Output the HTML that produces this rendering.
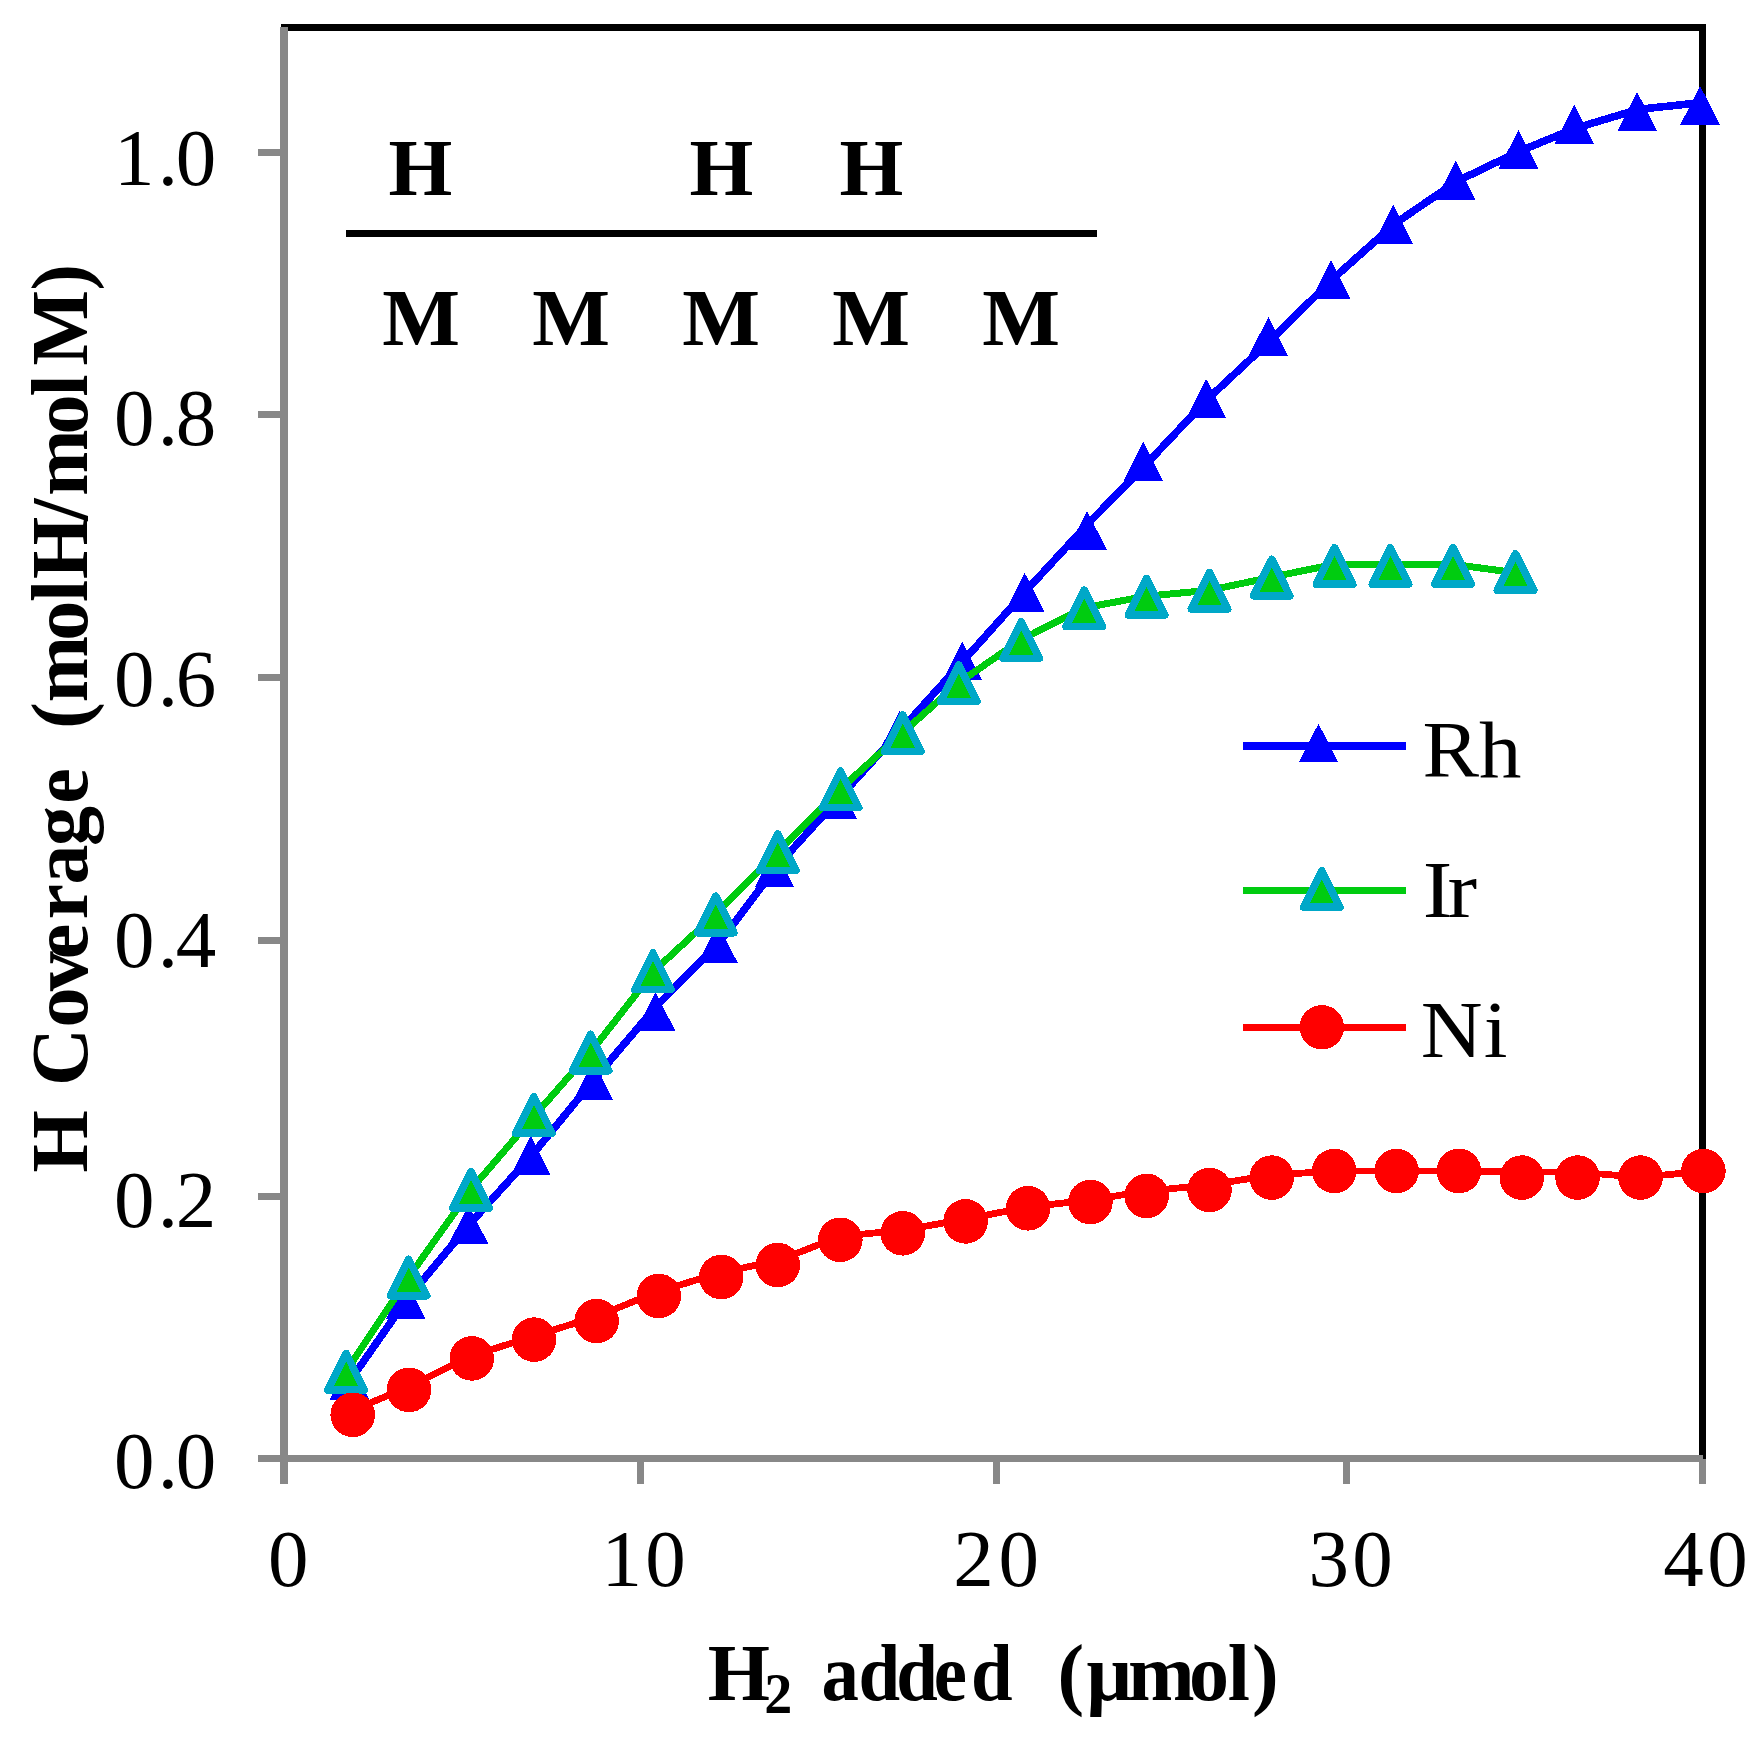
<!DOCTYPE html>
<html lang="en"><head><meta charset="utf-8"><title>H coverage vs H2 added</title>
<style>html,body{margin:0;padding:0;background:#fff;width:1763px;height:1742px;overflow:hidden}svg{display:block}svg{font-family:"Liberation Serif","DejaVu Serif",serif;font-size:80px}text{fill:#000}.b{font-weight:bold}</style></head><body>
<svg width="1763" height="1742" viewBox="0 0 1763 1742">
<rect width="1763" height="1742" fill="#fff"/>
<g fill="#000">
<rect x="281" y="24" width="1425" height="7"/>
<rect x="1699" y="24" width="7" height="1435"/>
</g>
<g fill="#888888">
<rect x="280" y="27" width="8" height="1457"/>
<rect x="258" y="1455" width="1445" height="7"/>
<rect x="258" y="149" width="22" height="7"/>
<rect x="258" y="411" width="22" height="7"/>
<rect x="258" y="674" width="22" height="7"/>
<rect x="258" y="937" width="22" height="7"/>
<rect x="258" y="1193" width="22" height="7"/>
<rect x="637" y="1462" width="7" height="22"/>
<rect x="993" y="1462" width="7" height="22"/>
<rect x="1343" y="1462" width="7" height="22"/>
<rect x="1699" y="1459" width="7" height="25"/>
</g>
<g style="font-size:81px">
<text x="113.9 157.7 175.7" y="185">1.0</text>
<text x="113.9 157.7 175.7" y="445">0.8</text>
<text x="113.9 157.7 175.7" y="706">0.6</text>
<text x="113.9 157.7 175.7" y="967">0.4</text>
<text x="113.9 157.7 175.7" y="1227">0.2</text>
<text x="113.9 157.7 175.7" y="1488">0.0</text>
<text x="267.9" y="1586">0</text>
<text x="601.5 645.2" y="1586">10</text>
<text x="953.2 998.4" y="1586">20</text>
<text x="1308.5 1352.3" y="1586">30</text>
<text x="1663.2 1707.2" y="1586">40</text>
</g>
<text class="b" x="707.7" y="1700">H</text>
<text class="b" x="764.3" y="1712.5" style="font-size:56px">2</text>
<text class="b" transform="translate(824,1700) scale(0.935,1)" x="-2.6 36.8 77.2 117.3 157.2">added</text>
<text class="b" x="1057.4 1086.6 1128.1 1188.9 1227.7 1251.9" y="1700">(μmol)</text>
<g transform="translate(86.5,1171.5) rotate(-90)">
<text class="b" x="-0.9" y="0">H</text>
<text class="b" x="85.6 143.9 180.2 212.2 252.1 286.9 325.4 367.8" y="0">Coverage</text>
<text class="b" x="442.7 469.1 530.7 569.4 592.5 650.7 675.4 737 774.9 806.1 881.1" y="0">(molH/molM)</text>
</g>
<rect x="346" y="230" width="751" height="7" fill="#000"/>
<text class="b" transform="translate(420.5,195) scale(1.025,1)" text-anchor="middle">H</text>
<text class="b" transform="translate(721.5,195) scale(1.025,1)" text-anchor="middle">H</text>
<text class="b" transform="translate(871.5,195) scale(1.025,1)" text-anchor="middle">H</text>
<text class="b" transform="translate(421,345) scale(1.03,1)" text-anchor="middle">M</text>
<text class="b" transform="translate(571,345) scale(1.03,1)" text-anchor="middle">M</text>
<text class="b" transform="translate(721,345) scale(1.03,1)" text-anchor="middle">M</text>
<text class="b" transform="translate(871,345) scale(1.03,1)" text-anchor="middle">M</text>
<text class="b" transform="translate(1021,345) scale(1.03,1)" text-anchor="middle">M</text>
<g stroke-linejoin="round" stroke-linecap="round" shape-rendering="crispEdges">
<polyline fill="none" stroke="#0000ff" stroke-width="7.6" points="350.9,1379.5 407.2,1298.9 470,1223.7 533.4,1153.5 595,1078.3 656.5,1006 719.4,942.6 776,867.4 838.5,798.6 900.9,730 963.8,660.3 1026.2,590.6 1088.6,523.1 1144.8,465.7 1207.7,399 1269.9,341 1332.5,279.2 1394.8,223.7 1457.1,181.2 1520,151 1575.8,128.1 1638.7,109.3 1701.6,102.6"/>
<g fill="#0000ff">
<polygon points="349.4,1360.7 369.1,1399.5 329.7,1399.5"/>
<polygon points="405.7,1280.1 425.4,1318.9 386,1318.9"/>
<polygon points="468.5,1204.9 488.2,1243.7 448.8,1243.7"/>
<polygon points="530.8,1135.7 550.5,1174.5 511.1,1174.5"/>
<polygon points="593.3,1060.8 613,1099.6 573.6,1099.6"/>
<polygon points="655.5,991.9 675.2,1030.7 635.8,1030.7"/>
<polygon points="717.9,923.8 737.6,962.6 698.2,962.6"/>
<polygon points="774.5,848.6 794.2,887.4 754.8,887.4"/>
<polygon points="837,779.8 856.7,818.6 817.3,818.6"/>
<polygon points="899.4,711.2 919.1,750 879.7,750"/>
<polygon points="962.3,641.5 982,680.3 942.6,680.3"/>
<polygon points="1024.7,572.9 1044.4,611.7 1005,611.7"/>
<polygon points="1087.1,511 1106.8,549.8 1067.4,549.8"/>
<polygon points="1143.3,441.9 1163,480.7 1123.6,480.7"/>
<polygon points="1206.2,378.9 1225.9,417.7 1186.5,417.7"/>
<polygon points="1268.4,317 1288.1,355.8 1248.7,355.8"/>
<polygon points="1331,260.3 1350.7,299.1 1311.3,299.1"/>
<polygon points="1393.3,204.7 1413,243.5 1373.6,243.5"/>
<polygon points="1455.6,160.7 1475.3,199.5 1435.9,199.5"/>
<polygon points="1518.5,129.8 1538.2,168.6 1498.8,168.6"/>
<polygon points="1574.3,104.9 1594,143.7 1554.6,143.7"/>
<polygon points="1637.2,92 1656.9,130.8 1617.5,130.8"/>
<polygon points="1700.1,85.8 1719.8,124.6 1680.4,124.6"/>
</g>
<polyline fill="none" stroke="#00cc10" stroke-width="7" points="346.2,1371.2 408.7,1277.1 471.2,1189.3 531.9,1118.7 593.5,1048.5 655,970 715.7,914 777.9,851.7 840.5,788.9 902.7,732.6 958.9,682.7 1021.3,639.6 1084.2,607.8 1146.6,596.2 1209.4,590.3 1271.8,577.1 1334.6,564.3 1390.4,564.3 1453,564.3 1515.5,572.7"/>
<g fill="#00cc10" stroke="#00a8c8" stroke-width="7.5">
<polygon points="346.2,1353.4 364.4,1390 327.9,1390"/>
<polygon points="408.7,1259.3 426.9,1295.8 390.4,1295.8"/>
<polygon points="471.2,1171.5 489.4,1208 452.9,1208"/>
<polygon points="533.9,1096.7 552.1,1133.2 515.6,1133.2"/>
<polygon points="590.6,1034.3 608.9,1070.8 572.4,1070.8"/>
<polygon points="653,952.9 671.2,989.5 634.8,989.5"/>
<polygon points="715.7,896.2 734,932.8 697.5,932.8"/>
<polygon points="777.9,833.9 796.1,870.5 759.6,870.5"/>
<polygon points="840.5,771.1 858.8,807.6 822.2,807.6"/>
<polygon points="902.7,714.8 921,751.4 884.5,751.4"/>
<polygon points="958.9,664.9 977.1,701.5 940.6,701.5"/>
<polygon points="1021.3,621.8 1039.5,658.4 1003,658.4"/>
<polygon points="1084.2,590 1102.5,626.5 1066,626.5"/>
<polygon points="1146.6,578.4 1164.8,615 1128.3,615"/>
<polygon points="1209.4,572.5 1227.7,609 1191.2,609"/>
<polygon points="1271.8,559.3 1290,595.9 1253.5,595.9"/>
<polygon points="1334.6,547.7 1352.8,584.2 1316.3,584.2"/>
<polygon points="1390.4,547.7 1408.7,584.2 1372.2,584.2"/>
<polygon points="1453,547.7 1471.2,584.2 1434.8,584.2"/>
<polygon points="1515.5,553.7 1533.8,590.2 1497.2,590.2"/>
</g>
<polyline fill="none" stroke="#ff0000" stroke-width="6.8" points="352.7,1410.5 409,1386.5 471.8,1355.8 534.1,1336 596.6,1316.4 658.8,1291.4 721.2,1272.4 777.8,1260.7 840.3,1236.3 902.7,1230.2 965.6,1219.1 1028,1207.1 1090.4,1199.9 1146.6,1191.1 1209.5,1184.9 1271.7,1175.1 1334.3,1171 1396.6,1171 1458.9,1171 1521.8,1171.8 1577.6,1172.2 1640.5,1177.2 1703.4,1171.3"/>
<g fill="#ff0000">
<circle cx="352.7" cy="1414.8" r="22.3"/>
<circle cx="409" cy="1389.9" r="22.3"/>
<circle cx="471.8" cy="1358.4" r="22.3"/>
<circle cx="534.1" cy="1339.6" r="22.3"/>
<circle cx="596.6" cy="1321.1" r="22.3"/>
<circle cx="658.8" cy="1296" r="22.3"/>
<circle cx="721.2" cy="1277" r="22.3"/>
<circle cx="777.8" cy="1265" r="22.3"/>
<circle cx="840.3" cy="1239.8" r="22.3"/>
<circle cx="902.7" cy="1233.3" r="22.3"/>
<circle cx="965.6" cy="1221.4" r="22.3"/>
<circle cx="1028" cy="1208.3" r="22.3"/>
<circle cx="1090.4" cy="1202.1" r="22.3"/>
<circle cx="1146.6" cy="1195.9" r="22.3"/>
<circle cx="1209.5" cy="1189.9" r="22.3"/>
<circle cx="1271.7" cy="1177.6" r="22.3"/>
<circle cx="1334.3" cy="1171" r="22.3"/>
<circle cx="1396.6" cy="1171" r="22.3"/>
<circle cx="1458.9" cy="1171" r="22.3"/>
<circle cx="1521.8" cy="1177.6" r="22.3"/>
<circle cx="1577.6" cy="1177.6" r="22.3"/>
<circle cx="1640.5" cy="1177.6" r="22.3"/>
<circle cx="1703.4" cy="1171" r="22.3"/>
</g>
<line x1="1242.6" stroke-linecap="butt" y1="746.2" x2="1406" y2="746.2" stroke="#0000ff" stroke-width="7.5"/>
<g fill="#0000ff"><polygon points="1318.5,723.6 1338.2,762.4 1298.8,762.4"/></g>
<line x1="1242.6" stroke-linecap="butt" y1="890.5" x2="1406" y2="890.5" stroke="#00cc10" stroke-width="7"/>
<g fill="#00cc10" stroke="#00a8c8" stroke-width="7.5"><polygon points="1321.8,870.7 1340,907.2 1303.5,907.2"/></g>
<line x1="1242.6" stroke-linecap="butt" y1="1027.2" x2="1406" y2="1027.2" stroke="#ff0000" stroke-width="7"/>
<circle cx="1321.8" cy="1027.3" r="22.2" fill="#ff0000"/>
</g>
<text transform="translate(1425,777) scale(1.06,1)" x="-2.3 50.85">Rh</text>
<text transform="translate(1425.9,917) scale(1.11,1)" x="-2.89 19.37">Ir</text>
<text transform="translate(1423.1,1057) scale(1.07,1)" x="-2.3 56.8">Ni</text>
</svg></body></html>
